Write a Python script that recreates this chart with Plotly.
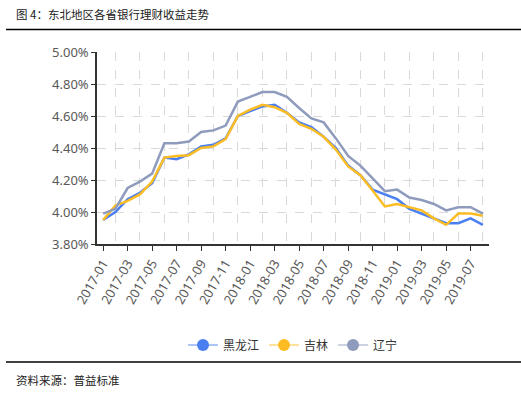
import plotly.graph_objects as go

months = [f"{y}-{m:02d}" for y in (2017, 2018, 2019) for m in range(1, 13)][:32]

heilongjiang = [3.95, 4.00, 4.08, 4.12, 4.18, 4.34, 4.33, 4.36, 4.41, 4.42, 4.46, 4.60,
                4.63, 4.66, 4.67, 4.62, 4.56, 4.53, 4.47, 4.40, 4.29, 4.23, 4.14, 4.11,
                4.08, 4.02, 3.99, 3.96, 3.93, 3.93, 3.96, 3.92]
jilin = [3.95, 4.04, 4.07, 4.11, 4.19, 4.34, 4.35, 4.355, 4.40, 4.41, 4.455, 4.60,
         4.64, 4.67, 4.655, 4.62, 4.55, 4.52, 4.47, 4.39, 4.285, 4.23, 4.135, 4.035,
         4.05, 4.03, 4.01, 3.96, 3.92, 3.99, 3.99, 3.977]
liaoning = [3.99, 4.02, 4.15, 4.19, 4.24, 4.43, 4.43, 4.44, 4.50, 4.51, 4.54, 4.69,
            4.72, 4.75, 4.75, 4.72, 4.65, 4.585, 4.56, 4.46, 4.35, 4.29, 4.21, 4.13,
            4.14, 4.09, 4.075, 4.05, 4.01, 4.03, 4.03, 3.99]

series = [("黑龙江", heilongjiang, "#4a7ff2", "rgba(74,127,242,0.45)"),
          ("吉林", jilin, "#fbbd23", "rgba(251,189,35,0.45)"),
          ("辽宁", liaoning, "#8f9bbd", "rgba(143,155,189,0.45)")]

idx = list(range(len(months)))
fig = go.Figure()
for name, vals, col, light in series:
    fig.add_trace(go.Scatter(x=idx, y=vals, mode="lines", name=name,
                             line=dict(color=col, width=2.5), showlegend=False))
for name, vals, col, light in series:
    fig.add_trace(go.Scatter(x=[None], y=[None], mode="lines+markers", name=name,
                             line=dict(color=light, width=2),
                             marker=dict(color=col, size=12)))

PL, PR, PT, PB = 97, 489, 52, 244
W, H = 521, 399
pw, ph = PR - PL, PB - PT


def px(x):
    return (x - PL) / pw


def py(y):
    return (PB - y) / ph


fig.update_layout(
    width=W, height=H,
    margin=dict(l=PL, r=W - PR, t=PT, b=H - PB, pad=0),
    plot_bgcolor="white", paper_bgcolor="white",
    font=dict(family="Noto Sans, Noto Sans CJK SC", color="#595959", size=13),
    legend=dict(orientation="h", x=0.5, xanchor="center", y=py(345), yanchor="middle",
                font=dict(family="Noto Sans CJK SC", size=12, color="#333333"),
                itemwidth=30, bgcolor="rgba(0,0,0,0)"),
    xaxis=dict(range=[-0.5, len(months) - 0.5], tickmode="array",
               tickvals=idx[::2], ticktext=months[::2], tickangle=-60,
               showgrid=False, zeroline=False, showline=True, linecolor="#333333",
               linewidth=1.5, ticks="outside", ticklen=5, tickcolor="#333333",
               tickfont=dict(size=13, color="#595959"),
               minor=dict(tickmode="array", tickvals=idx[1::2], showgrid=True,
                          gridcolor="#d9d9d9", griddash="dash", gridwidth=1, ticks="")),
    yaxis=dict(range=[3.8, 5.0], dtick=0.2, tick0=3.8, tickformat=".2f", ticksuffix="%",
               showgrid=True, gridcolor="#d9d9d9", griddash="dash", gridwidth=1,
               zeroline=False, showline=True, linecolor="#333333", linewidth=1.5,
               ticks="outside", ticklen=4, tickcolor="#333333",
               tickfont=dict(size=13, color="#595959")),
)

fig.add_annotation(text="图 4：东北地区各省银行理财收益走势", xref="paper", yref="paper",
                   x=px(14), y=py(14), xanchor="left", yanchor="middle", showarrow=False,
                   font=dict(family="Noto Sans CJK SC", size=11.5, color="#222222"))
fig.add_annotation(text="资料来源：普益标准", xref="paper", yref="paper",
                   x=px(14), y=py(380), xanchor="left", yanchor="middle", showarrow=False,
                   font=dict(family="Noto Sans CJK SC", size=11.5, color="#222222"))
for yy in (29.5, 362):
    fig.add_shape(type="line", xref="paper", yref="paper", x0=px(6), x1=px(521),
                  y0=py(yy), y1=py(yy), line=dict(color="black", width=1.5))

fig.write_html("out.html", config={"displayModeBar": False},
               post_script="document.body.style.margin='0';document.body.style.padding='0';")
